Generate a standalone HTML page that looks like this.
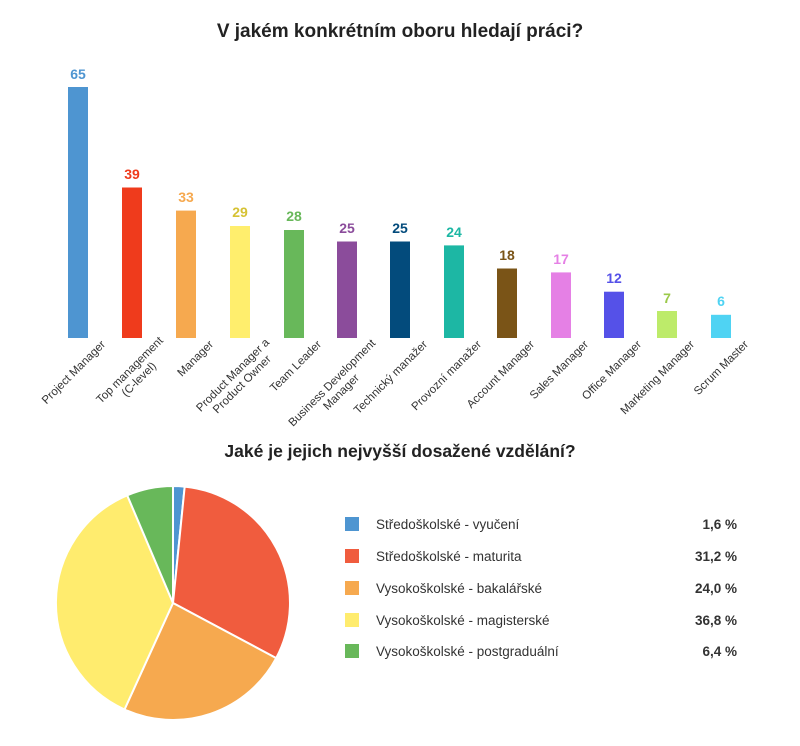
<!DOCTYPE html>
<html><head><meta charset="utf-8"><style>
body{margin:0;background:#fff;}
svg text{font-family:"Liberation Sans",sans-serif;}
</style></head><body>
<svg width="800" height="741" viewBox="0 0 800 741" xmlns="http://www.w3.org/2000/svg">
<text x="400" y="37" text-anchor="middle" font-size="19" font-weight="bold" fill="#222">V jakém konkrétním oboru hledají práci?</text>
<g font-size="14" font-weight="bold" text-anchor="middle">
<rect x="68" y="87" width="20" height="251" fill="#4e95d1"/><text x="78" y="79" fill="#4e95d1">65</text>
<rect x="122" y="187.5" width="20" height="150.5" fill="#ef3b1c"/><text x="132" y="179" fill="#ef3b1c">39</text>
<rect x="176" y="210.6" width="20" height="127.4" fill="#f6a94f"/><text x="186" y="202" fill="#f6a94f">33</text>
<rect x="230" y="226" width="20" height="112" fill="#ffee6d"/><text x="240" y="217" fill="#d6c234">29</text>
<rect x="284" y="230" width="20" height="108" fill="#68b85a"/><text x="294" y="221" fill="#68b85a">28</text>
<rect x="337" y="241.5" width="20" height="96.5" fill="#8b4c9b"/><text x="347" y="233" fill="#8b4c9b">25</text>
<rect x="390" y="241.5" width="20" height="96.5" fill="#034b7c"/><text x="400" y="233" fill="#034b7c">25</text>
<rect x="444" y="245.4" width="20" height="92.6" fill="#1db7a4"/><text x="454" y="237" fill="#1db7a4">24</text>
<rect x="497" y="268.5" width="20" height="69.5" fill="#7a5417"/><text x="507" y="260" fill="#7a5417">18</text>
<rect x="551" y="272.4" width="20" height="65.6" fill="#e580e5"/><text x="561" y="264" fill="#e580e5">17</text>
<rect x="604" y="291.7" width="20" height="46.3" fill="#5551e8"/><text x="614" y="283" fill="#5551e8">12</text>
<rect x="657" y="311" width="20" height="27" fill="#bdeb6a"/><text x="667" y="303" fill="#9bc94a">7</text>
<rect x="711" y="314.8" width="20" height="23.2" fill="#4fd3f3"/><text x="721" y="306" fill="#4fd3f3">6</text>
</g>
<g font-size="11.5" fill="#333">
<text transform="translate(106,345) rotate(-45)" text-anchor="end">Project Manager</text>
<text transform="translate(162,343) rotate(-45)" text-anchor="middle"><tspan x="-42" y="0">Top management</tspan><tspan x="-42" y="13">(C-level)</tspan></text>
<text transform="translate(214,345) rotate(-45)" text-anchor="end">Manager</text>
<text transform="translate(270,343) rotate(-45)" text-anchor="middle"><tspan x="-49" y="0">Product Manager a</tspan><tspan x="-49" y="13">Product Owner</tspan></text>
<text transform="translate(322,345) rotate(-45)" text-anchor="end">Team Leader</text>
<text transform="translate(377,343) rotate(-45)" text-anchor="middle"><tspan x="-60" y="0">Business Development</tspan><tspan x="-60" y="13">Manager</tspan></text>
<text transform="translate(428,345) rotate(-45)" text-anchor="end">Technický manažer</text>
<text transform="translate(482,345) rotate(-45)" text-anchor="end">Provozní manažer</text>
<text transform="translate(535,345) rotate(-45)" text-anchor="end">Account Manager</text>
<text transform="translate(589,345) rotate(-45)" text-anchor="end">Sales Manager</text>
<text transform="translate(642,345) rotate(-45)" text-anchor="end">Office Manager</text>
<text transform="translate(695,345) rotate(-45)" text-anchor="end">Marketing Manager</text>
<text transform="translate(749,345) rotate(-45)" text-anchor="end">Scrum Master</text>
</g>
<text x="400" y="457" text-anchor="middle" font-size="17.5" font-weight="bold" fill="#222">Jaké je jejich nejvyšší dosažené vzdělání?</text>
<g stroke="#fff" stroke-width="2">
<path d="M173,603 L173,486 A117,117 0 0 1 184.7,486.6 Z" fill="#4e95d1"/>
<path d="M173,603 L184.7,486.6 A117,117 0 0 1 276.2,658.1 Z" fill="#f05c3e"/>
<path d="M173,603 L276.2,658.1 A117,117 0 0 1 124.5,709.5 Z" fill="#f6a94f"/>
<path d="M173,603 L124.5,709.5 A117,117 0 0 1 127.2,495.3 Z" fill="#ffec6e"/>
<path d="M173,603 L127.2,495.3 A117,117 0 0 1 173,486 Z" fill="#68b85a"/>
</g>
<g font-size="13.5" fill="#333">
<rect x="345" y="517" width="14" height="14" fill="#4e95d1"/><text x="376" y="529">Středoškolské - vyučení</text><text x="737" y="529" text-anchor="end" font-weight="bold">1,6 %</text>
<rect x="345" y="549" width="14" height="14" fill="#f05c3e"/><text x="376" y="561">Středoškolské - maturita</text><text x="737" y="561" text-anchor="end" font-weight="bold">31,2 %</text>
<rect x="345" y="581" width="14" height="14" fill="#f6a94f"/><text x="376" y="593">Vysokoškolské - bakalářské</text><text x="737" y="593" text-anchor="end" font-weight="bold">24,0 %</text>
<rect x="345" y="613" width="14" height="14" fill="#ffec6e"/><text x="376" y="625">Vysokoškolské - magisterské</text><text x="737" y="625" text-anchor="end" font-weight="bold">36,8 %</text>
<rect x="345" y="644" width="14" height="14" fill="#68b85a"/><text x="376" y="656">Vysokoškolské - postgraduální</text><text x="737" y="656" text-anchor="end" font-weight="bold">6,4 %</text>
</g>
</svg>
</body></html>
